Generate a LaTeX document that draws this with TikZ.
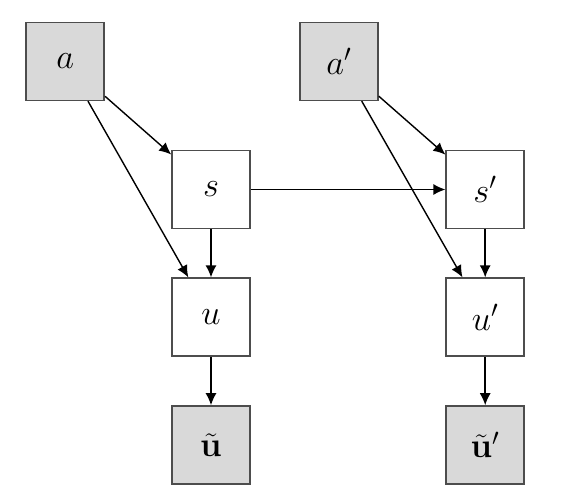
\documentclass[tikz,border=0pt]{standalone}
\usetikzlibrary{arrows.meta}
\definecolor{boxfill}{HTML}{D9D9D9}
\definecolor{boxline}{HTML}{4D4D4D}
\begin{document}
\begin{tikzpicture}[x=0.5pt,y=-0.5pt,
  vbox/.style={draw=boxline,line width=0.8pt,minimum size=39pt,inner sep=0pt,font=\LARGE},
  obs/.style={vbox,fill=boxfill},
  edge/.style={line width=0.7pt,-{Latex[length=6pt,width=5.5pt]}}]
\useasboundingbox (0,0) rectangle (586,504);
\node[obs]  (a)  at (65.3,61.3)  {$a$};
\node[obs]  (ap) at (339,61.3)   {$a'$};
\node[vbox] (s)  at (211,189.5)  {$s$};
\node[vbox] (sp) at (485.2,189.5) {$s'$};
\node[vbox] (u)  at (211,317.2)  {$u$};
\node[vbox] (up) at (485.2,317.2) {$u'$};
\node[obs]  (ut) at (211,445)    {$\tilde{\mathbf{u}}$};
\node[obs]  (utp) at (485.2,445) {$\tilde{\mathbf{u}}'$};
\draw[edge] (a) -- (s);
\draw[edge] (a) -- (u);
\draw[edge] (s) -- (u);
\draw[edge] (u) -- (ut);
\draw[edge] (s) -- (sp);
\draw[edge] (ap) -- (sp);
\draw[edge] (ap) -- (up);
\draw[edge] (sp) -- (up);
\draw[edge] (up) -- (utp);
\end{tikzpicture}
\end{document}
